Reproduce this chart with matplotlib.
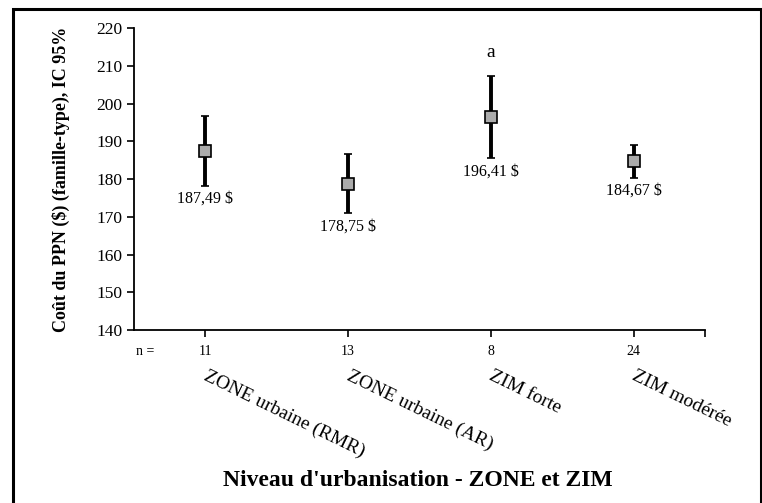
import matplotlib.pyplot as plt
import matplotlib.patches as patches

plt.rcParams['font.family'] = ['Liberation Serif', 'DejaVu Serif']

# data
categories = ['ZONE urbaine (RMR)', 'ZONE urbaine (AR)', 'ZIM forte', 'ZIM modérée']
n_values = ['11', '13', '8', '24']
means = [187.49, 178.75, 196.41, 184.67]
upper = [196.8, 186.6, 207.3, 188.9]
lower = [178.2, 170.9, 185.5, 180.4]
value_labels = ['187,49 $', '178,75 $', '196,41 $', '184,67 $']
letters = ['', '', 'a', '']
yticks = [140, 150, 160, 170, 180, 190, 200, 210, 220]

x = list(range(len(categories)))
err_lo = [m - l for m, l in zip(means, lower)]
err_hi = [u - m for m, u in zip(means, upper)]

fig = plt.figure(figsize=(7.62, 5.03), dpi=100)
ax = fig.add_axes([0.1759, 0.3439, 0.7493, 0.6004])

ax.errorbar(x, means, yerr=[err_lo, err_hi], fmt='s', color='black',
            ecolor='black', elinewidth=2.8, capsize=3.2, capthick=2.6,
            markersize=8, markerfacecolor='#ababab', markeredgecolor='black',
            markeredgewidth=1.2)

for xi, lo, lab in zip(x, lower, value_labels):
    ax.annotate(lab, (xi, lo), xytext=(0, -5), textcoords='offset pixels',
                ha='center', va='top', fontsize=11.5)

for xi, hi, let in zip(x, upper, letters):
    if let:
        ax.annotate(let, (xi, hi), xytext=(0, 15), textcoords='offset pixels',
                    ha='center', va='bottom', fontsize=14)

ax.set_xlim(-0.5, 3.5)
ax.set_ylim(140, 220)
ax.set_yticks(yticks)
ax.tick_params(axis='y', labelsize=12.5, direction='out', length=5, width=1.2)
ax.set_xticks(x)
ax.set_xticks([3.5], minor=True)
ax.set_xticklabels([])
ax.tick_params(axis='x', which='both', direction='out', length=5, width=1.2)

for s in ['top', 'right']:
    ax.spines[s].set_visible(False)
for s in ['left', 'bottom']:
    ax.spines[s].set_linewidth(1.3)

# n row under the axis
ax.text(-0.42, -0.07, 'n =', transform=ax.get_xaxis_transform(),
        ha='center', va='center', fontsize=10)
for xi, n in zip(x, n_values):
    ax.text(xi, -0.07, n, transform=ax.get_xaxis_transform(),
            ha='center', va='center', fontsize=10)

# rotated category names
for xi, cat in zip(x, categories):
    ax.annotate(cat, (xi, 0), xycoords=('data', 'axes fraction'),
                xytext=(3, -37), textcoords='offset pixels',
                rotation=-26, rotation_mode='anchor', ha='left', va='top',
                fontsize=14)

ax.set_ylabel("Coût du PPN ($) (famille-type), IC 95%", fontsize=13,
              fontweight='bold', labelpad=19)
fig.text(0.548, 0.044, "Niveau d'urbanisation - ZONE et ZIM", ha='center',
         va='center', fontsize=17, fontweight='bold')

border = patches.Rectangle((13 / 762, -0.01), 748 / 762, 1 - 9 / 503 + 0.01,
                           transform=fig.transFigure, fill=False,
                           edgecolor='black', linewidth=2.2)
fig.patches.append(border)

fig.savefig('out.png', dpi=100)
